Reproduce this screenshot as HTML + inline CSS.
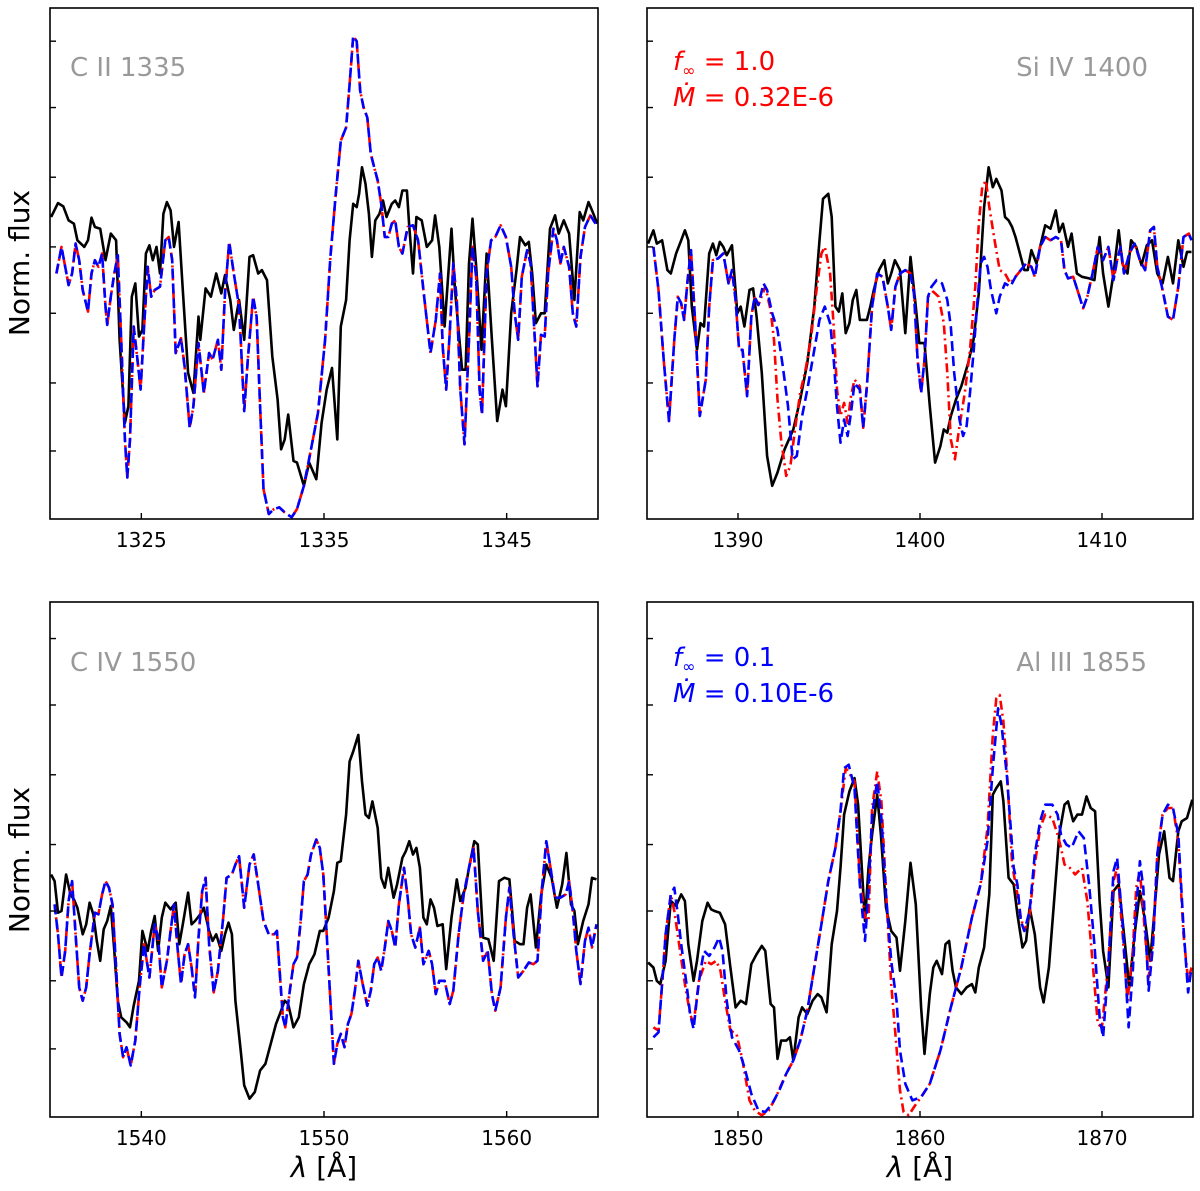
<!DOCTYPE html>
<html><head><meta charset="utf-8">
<style>
html,body{margin:0;padding:0;background:#fff;}
svg{display:block;font-family:"DejaVu Sans","Liberation Sans",sans-serif;}
</style></head>
<body>
<svg id="fig" width="1200" height="1191" viewBox="0 0 1200 1191" xmlns="http://www.w3.org/2000/svg">
<text x="0" y="0" transform="translate(29,263) rotate(-90)" text-anchor="middle" font-size="28">Norm. flux</text>
<text x="0" y="0" transform="translate(29,860) rotate(-90)" text-anchor="middle" font-size="28">Norm. flux</text>
<text x="324" y="1177" text-anchor="middle" font-size="28"><tspan font-style="italic">λ</tspan> [Å]</text>
<text x="920" y="1177" text-anchor="middle" font-size="28"><tspan font-style="italic">λ</tspan> [Å]</text>
<text x="70" y="76" font-size="26" fill="#999">C II 1335</text>
<text x="1148" y="76" text-anchor="end" font-size="26" fill="#999">Si IV 1400</text>
<text x="70" y="671" font-size="26" fill="#999">C IV 1550</text>
<text x="1147" y="671" text-anchor="end" font-size="26" fill="#999">Al III 1855</text>
<g fill="#ff0000" font-size="26">
<text x="673" y="70"><tspan font-style="italic">f</tspan><tspan font-size="16" dy="6">∞</tspan><tspan dy="-6"> = 1.0</tspan></text>
<text x="673" y="106"><tspan font-style="italic">Ṁ</tspan> = 0.32E-6</text>
</g>
<g fill="#0000ff" font-size="26">
<text x="673" y="666"><tspan font-style="italic">f</tspan><tspan font-size="16" dy="6">∞</tspan><tspan dy="-6"> = 0.1</tspan></text>
<text x="673" y="702"><tspan font-style="italic">Ṁ</tspan> = 0.10E-6</text>
</g>
</svg>
<script>
// y ticks (arbitrary normalized flux units, unlabeled)
const yTickValues = [0.205, 0.41, 0.62, 0.82, 1.03, 1.24, 1.44];
// x tick labels per panel (Angstrom)
const p1Ticks = [1325, 1335, 1345];
const p2Ticks = [1390, 1400, 1410];
const p3Ticks = [1540, 1550, 1560];
const p4Ticks = [1850, 1860, 1870];
// panel wavelength ranges
const p1Range = [1320, 1350];
const p2Range = [1385, 1415];
const p3Range = [1535, 1565];
const p4Range = [1845, 1875];

// ---- Panel 1: C II 1335 (wavelength offsets from range start, flux)
const p1ObsWave = [0.06,0.44,0.73,1.02,1.31,1.5,1.88,2.08,2.27,2.46,2.75,3.04,3.33,3.62,3.81,4.1,4.29,4.48,4.67,4.87,5.06,5.25,5.44,5.63,5.83,6.02,6.21,6.4,6.6,6.79,7.04,7.27,7.56,7.85,8.13,8.23,8.52,8.81,9.1,9.38,9.58,9.87,10.06,10.35,10.63,10.92,11.12,11.4,11.6,11.88,12.17,12.46,12.65,12.85,13.04,13.33,13.52,13.9,14.19,14.58,14.87,15.15,15.44,15.73,15.92,16.21,16.4,16.6,16.79,16.92,17.08,17.27,17.46,17.62,17.81,18.04,18.23,18.42,18.71,18.9,19.1,19.29,19.54,19.67,19.87,20.06,20.35,20.63,20.92,21.08,21.31,21.6,21.98,22.17,22.56,22.75,22.94,23.13,23.33,23.62,23.9,24.19,24.48,24.77,24.96,25.25,25.54,25.73,26.02,26.21,26.4,26.6,26.88,27.08,27.37,27.65,27.85,28.13,28.42,28.71,29.0,29.19,29.48,29.67,29.96];
const p1ObsFlux = [.91,.952,.942,.90,.89,.84,.82,.84,.908,.88,.875,.78,.86,.84,.54,.29,.34,.67,.71,.55,.57,.80,.825,.78,.82,.74,.92,.955,.93,.82,.895,.69,.44,.38,.61,.54,.695,.67,.74,.68,.735,.66,.57,.66,.54,.79,.795,.74,.75,.72,.49,.36,.21,.24,.315,.175,.17,.10,.17,.12,.29,.39,.455,.24,.58,.66,.84,.95,.94,.98,1.06,1.01,.92,.79,.90,.92,.96,.91,.95,.96,.94,.99,.99,.88,.74,.91,.90,.82,.84,.915,.82,.58,.875,.69,.45,.45,.77,.905,.76,.51,.80,.54,.295,.39,.34,.62,.75,.85,.825,.835,.74,.59,.62,.62,.875,.915,.86,.90,.86,.66,.925,.90,.955,.93,.89];
const p1ModelWave = [0.35,0.63,0.83,1.02,1.21,1.4,1.6,1.79,2.08,2.27,2.46,2.65,2.85,3.04,3.13,3.33,3.52,3.71,3.9,4.1,4.23,4.38,4.58,4.77,4.96,5.15,5.35,5.54,5.73,6.02,6.31,6.5,6.69,6.88,7.17,7.37,7.65,7.85,8.13,8.42,8.71,8.9,9.19,9.38,9.58,9.81,10.06,10.35,10.63,10.83,11.12,11.31,11.5,11.69,11.98,12.27,12.56,12.85,13.23,13.52,13.9,14.29,14.67,15.06,15.35,15.63,15.92,16.21,16.4,16.6,16.79,16.98,17.17,17.37,17.56,17.75,17.94,18.13,18.33,18.52,18.71,18.9,19.1,19.29,19.58,19.87,20.15,20.44,20.83,21.12,21.35,21.5,21.69,21.88,22.08,22.27,22.46,22.69,22.94,23.13,23.33,23.52,23.65,23.9,24.15,24.38,24.67,24.96,25.25,25.44,25.63,25.83,26.12,26.31,26.5,26.69,26.88,27.08,27.27,27.56,27.75,27.94,28.13,28.42,28.62,28.81,29.04,29.29,29.58,29.87];
const p1ModelFlux = [.74,.82,.76,.705,.74,.83,.78,.69,.625,.74,.78,.76,.80,.64,.585,.67,.74,.795,.54,.24,.125,.24,.58,.49,.39,.58,.76,.67,.69,.70,.84,.85,.78,.50,.545,.46,.275,.34,.53,.38,.50,.48,.54,.45,.68,.835,.74,.64,.325,.48,.67,.61,.34,.09,.015,.03,.035,.02,.005,.03,.10,.21,.32,.54,.79,.97,1.14,1.18,1.31,1.455,1.44,1.29,1.24,1.21,1.10,1.06,1.02,.95,.85,.85,.89,.90,.82,.80,.88,.885,.84,.69,.50,.60,.74,.52,.39,.56,.77,.66,.39,.225,.54,.82,.73,.39,.315,.74,.84,.85,.885,.85,.76,.62,.54,.73,.81,.77,.58,.40,.555,.55,.74,.875,.84,.77,.82,.76,.62,.58,.79,.88,.915,.89];

// ---- Panel 2: Si IV 1400
const p2ObsWave = [.06,.35,.54,.83,1.12,1.31,1.6,1.88,2.08,2.27,2.46,2.75,2.94,3.13,3.42,3.62,3.81,4.0,4.19,4.38,4.67,4.96,5.15,5.35,5.63,5.83,6.02,6.31,6.6,6.88,7.17,7.56,8.04,8.42,8.81,9.19,9.48,9.67,9.96,10.15,10.35,10.54,10.73,10.92,11.12,11.31,11.5,11.69,11.88,12.08,12.27,12.46,12.75,13.04,13.23,13.42,13.62,13.9,14.19,14.48,14.77,14.96,15.25,15.54,15.83,16.12,16.31,16.5,16.69,16.98,17.27,17.65,17.94,18.23,18.52,18.77,19.0,19.19,19.48,19.67,19.87,20.06,20.25,20.54,20.73,20.92,21.12,21.4,21.6,21.88,22.17,22.46,22.65,22.85,23.13,23.33,23.62,23.9,24.29,24.58,24.87,25.06,25.35,25.63,25.92,26.12,26.4,26.6,26.88,27.17,27.46,27.75,28.04,28.33,28.62,28.9,29.19,29.48,29.67,29.92];
const p2ObsFlux = [.83,.87,.83,.84,.75,.74,.80,.84,.87,.84,.64,.51,.59,.58,.80,.83,.795,.835,.82,.795,.825,.62,.64,.58,.69,.695,.61,.44,.19,.10,.14,.21,.27,.36,.47,.64,.84,.965,.98,.91,.64,.625,.68,.56,.59,.66,.69,.60,.60,.60,.64,.69,.75,.78,.71,.74,.78,.75,.56,.79,.64,.53,.53,.34,.17,.22,.27,.26,.31,.36,.40,.47,.54,.68,.94,1.06,1.0,1.025,.99,.91,.90,.88,.85,.79,.75,.75,.81,.77,.82,.885,.875,.93,.865,.89,.82,.86,.74,.73,.725,.72,.85,.74,.64,.74,.87,.77,.74,.84,.82,.765,.825,.84,.74,.71,.79,.71,.84,.76,.805,.805];
const p2BlueWave = [.35,.63,.92,1.21,1.5,1.69,1.88,2.04,2.23,2.42,2.65,2.9,3.23,3.42,3.62,3.9,4.19,4.48,4.67,4.87,5.06,5.25,5.5,5.73,5.92,6.12,6.4,6.6,6.88,7.17,7.46,7.75,8.0,8.23,8.52,8.81,9.19,9.48,9.77,10.06,10.25,10.44,10.63,10.83,11.02,11.21,11.4,11.69,11.88,12.08,12.37,12.65,12.94,13.23,13.42,13.65,13.9,14.19,14.48,14.67,14.87,15.06,15.25,15.44,15.63,15.92,16.21,16.5,16.69,16.88,17.17,17.37,17.56,17.75,17.94,18.13,18.33,18.52,18.71,18.9,19.19,19.38,19.67,19.96,20.25,20.54,20.83,21.12,21.31,21.6,21.88,22.17,22.46,22.75,22.94,23.13,23.42,23.71,23.96,24.19,24.48,24.77,25.06,25.35,25.63,25.83,26.02,26.21,26.5,26.79,27.08,27.37,27.65,27.85,28.04,28.33,28.62,28.9,29.19,29.48,29.77,29.92];
const p2BlueFlux = [.82,.69,.48,.295,.54,.67,.65,.60,.72,.81,.59,.31,.42,.64,.78,.785,.80,.71,.75,.66,.51,.51,.37,.61,.67,.645,.71,.69,.62,.57,.46,.34,.18,.19,.31,.39,.51,.60,.64,.59,.49,.34,.23,.30,.25,.32,.41,.39,.275,.40,.64,.74,.73,.64,.57,.70,.74,.75,.74,.68,.48,.38,.48,.67,.70,.72,.71,.66,.58,.44,.30,.25,.28,.38,.50,.64,.77,.79,.76,.69,.62,.67,.71,.70,.73,.75,.77,.76,.73,.82,.85,.84,.85,.84,.75,.725,.73,.68,.635,.67,.74,.82,.78,.82,.72,.78,.82,.74,.80,.83,.78,.75,.87,.88,.76,.69,.61,.60,.70,.85,.86,.84];
const p2RedWave = [.35,.63,.92,1.21,1.5,1.69,1.88,2.04,2.23,2.42,2.65,2.9,3.23,3.42,3.62,3.9,4.19,4.48,4.67,4.87,5.06,5.25,5.5,5.73,5.92,6.12,6.5,6.79,6.98,7.17,7.37,7.65,7.88,8.13,8.42,8.71,9.0,9.29,9.58,9.77,10.06,10.25,10.44,10.63,10.83,11.02,11.21,11.4,11.69,11.88,12.08,12.37,12.65,12.94,13.23,13.42,13.65,13.9,14.19,14.48,14.67,14.87,15.06,15.25,15.44,15.73,16.02,16.31,16.5,16.69,16.92,17.17,17.46,17.75,18.04,18.23,18.42,18.62,18.81,19.1,19.38,19.67,19.96,20.25,20.54,20.83,21.12,21.31,21.6,21.88,22.17,22.46,22.75,22.94,23.13,23.42,23.71,23.96,24.19,24.48,24.77,25.06,25.35,25.63,25.83,26.02,26.21,26.5,26.79,27.08,27.37,27.65,27.85,28.04,28.33,28.62,28.9,29.19,29.48,29.77,29.92];
const p2RedFlux = [.82,.69,.48,.295,.54,.67,.65,.60,.72,.81,.59,.31,.42,.64,.78,.785,.80,.71,.75,.66,.51,.51,.37,.61,.67,.645,.70,.63,.54,.36,.24,.13,.16,.27,.38,.45,.54,.68,.80,.82,.74,.59,.39,.31,.35,.29,.37,.42,.40,.275,.40,.64,.74,.73,.64,.57,.70,.74,.75,.74,.68,.48,.38,.48,.67,.685,.67,.59,.44,.24,.18,.28,.38,.51,.70,.89,1.0,1.02,.94,.84,.75,.74,.71,.73,.75,.77,.76,.73,.82,.85,.84,.85,.84,.75,.725,.73,.68,.635,.67,.74,.82,.78,.82,.72,.78,.82,.74,.80,.83,.78,.75,.87,.88,.76,.69,.61,.60,.70,.85,.86,.84];

// ---- Panel 3: C IV 1550
const p3ObsWave = [.06,.25,.44,.63,.88,1.12,1.31,1.5,1.79,1.98,2.17,2.37,2.56,2.75,2.94,3.13,3.33,3.52,3.71,3.9,4.19,4.38,4.58,4.87,5.06,5.35,5.54,5.73,5.92,6.12,6.31,6.6,6.88,7.08,7.27,7.56,7.75,7.94,8.23,8.42,8.71,8.9,9.1,9.38,9.58,9.77,9.96,10.15,10.44,10.63,10.92,11.21,11.5,11.79,12.08,12.37,12.65,12.85,13.04,13.33,13.62,13.9,14.19,14.48,14.77,14.96,15.25,15.54,15.73,15.92,16.21,16.4,16.6,16.88,17.08,17.27,17.46,17.65,17.94,18.13,18.33,18.52,18.81,19.0,19.29,19.48,19.67,19.87,20.06,20.25,20.44,20.63,20.83,21.02,21.21,21.5,21.69,21.98,22.27,22.46,22.75,22.94,23.23,23.42,23.71,24.0,24.29,24.58,24.87,25.15,25.44,25.73,25.92,26.12,26.31,26.6,26.88,27.17,27.46,27.75,28.04,28.27,28.52,28.71,28.9,29.19,29.48,29.67,29.92];
const p3ObsFlux = [.73,.71,.615,.62,.73,.67,.655,.63,.55,.58,.645,.61,.53,.47,.565,.59,.635,.50,.35,.30,.285,.27,.335,.41,.56,.50,.56,.605,.50,.60,.645,.625,.645,.52,.58,.675,.58,.59,.61,.63,.56,.53,.55,.50,.55,.585,.55,.35,.20,.095,.055,.075,.14,.16,.22,.28,.32,.35,.34,.27,.30,.40,.46,.49,.56,.56,.60,.68,.765,.77,.91,1.07,1.10,1.15,1.01,.91,.90,.95,.87,.72,.69,.75,.66,.70,.78,.80,.83,.79,.81,.75,.60,.58,.655,.63,.575,.58,.445,.60,.715,.65,.69,.75,.83,.82,.54,.535,.47,.71,.72,.715,.53,.52,.52,.63,.67,.51,.665,.76,.72,.63,.70,.795,.64,.62,.52,.59,.64,.72,.715];
const p3ModelWave = [.25,.44,.63,.83,1.02,1.21,1.4,1.6,1.79,1.98,2.17,2.46,2.65,2.85,3.04,3.23,3.42,3.62,3.81,4.0,4.19,4.42,4.67,4.92,5.15,5.44,5.73,5.92,6.12,6.4,6.6,6.79,6.98,7.17,7.37,7.56,7.75,7.94,8.13,8.33,8.52,8.71,8.96,9.19,9.48,9.67,9.96,10.15,10.35,10.63,10.92,11.15,11.4,11.69,11.98,12.27,12.42,12.56,12.75,12.88,13.13,13.33,13.52,13.71,13.9,14.1,14.29,14.58,14.77,14.96,15.15,15.35,15.54,15.73,15.92,16.12,16.31,16.5,16.69,16.88,17.12,17.37,17.56,17.75,17.94,18.13,18.33,18.52,18.71,18.9,19.1,19.38,19.58,19.77,20.0,20.25,20.44,20.73,20.92,21.12,21.31,21.6,21.88,22.08,22.37,22.65,22.94,23.19,23.42,23.71,23.96,24.19,24.38,24.67,24.96,25.15,25.38,25.63,25.92,26.21,26.46,26.69,26.92,27.17,27.37,27.65,27.94,28.23,28.42,28.62,28.81,29.04,29.29,29.48,29.67,29.92];
const p3ModelFlux = [.64,.55,.42,.50,.65,.71,.55,.39,.35,.39,.49,.615,.61,.67,.71,.69,.64,.45,.25,.18,.21,.155,.23,.40,.52,.42,.58,.54,.39,.47,.56,.64,.51,.40,.49,.52,.45,.36,.54,.68,.72,.52,.375,.44,.60,.72,.73,.76,.785,.63,.76,.79,.70,.59,.55,.55,.56,.45,.30,.27,.38,.46,.48,.58,.71,.73,.79,.835,.81,.73,.55,.35,.16,.22,.25,.21,.28,.31,.38,.47,.40,.335,.38,.46,.48,.44,.51,.59,.56,.51,.64,.75,.66,.55,.51,.57,.46,.50,.46,.37,.41,.41,.34,.38,.55,.67,.75,.81,.62,.47,.50,.37,.32,.39,.60,.69,.55,.42,.44,.465,.46,.47,.68,.83,.76,.66,.66,.67,.71,.62,.50,.40,.53,.57,.51,.58];

// ---- Panel 4: Al III 1855
const p4ObsWave = [.06,.35,.54,.73,1.02,1.31,1.6,1.88,2.08,2.27,2.56,2.75,3.04,3.33,3.52,3.71,4.0,4.29,4.58,4.87,5.15,5.44,5.73,6.02,6.31,6.5,6.79,6.98,7.17,7.37,7.65,7.85,8.04,8.33,8.52,8.81,9.1,9.38,9.58,9.87,10.15,10.44,10.63,10.83,11.12,11.4,11.6,11.79,11.98,12.17,12.37,12.65,12.85,13.13,13.42,13.71,13.9,14.19,14.48,14.77,15.06,15.25,15.54,15.73,15.92,16.21,16.4,16.6,16.79,16.98,17.27,17.56,17.85,18.04,18.23,18.52,18.81,19.0,19.19,19.44,19.58,19.87,20.15,20.35,20.63,20.83,21.02,21.31,21.6,21.79,22.08,22.37,22.65,22.94,23.13,23.42,23.65,23.9,24.15,24.38,24.62,24.87,25.06,25.35,25.63,25.92,26.21,26.5,26.79,27.08,27.37,27.65,27.85,28.13,28.42,28.71,28.9,29.19,29.38,29.67,29.96];
const p4ObsFlux = [.465,.45,.41,.40,.47,.65,.635,.67,.65,.52,.41,.47,.59,.645,.625,.62,.615,.58,.45,.33,.35,.34,.46,.49,.515,.50,.34,.33,.175,.23,.23,.24,.17,.30,.33,.31,.35,.37,.36,.315,.52,.62,.75,.91,.98,1.02,.94,.76,.59,.75,.85,.97,.85,.63,.56,.54,.44,.59,.765,.64,.33,.19,.37,.45,.47,.43,.52,.53,.44,.39,.37,.39,.40,.375,.45,.51,.67,.97,.99,1.01,.95,.72,.70,.61,.51,.53,.63,.55,.39,.345,.45,.65,.85,.94,.95,.89,.91,.91,.965,.93,.92,.65,.50,.39,.68,.70,.55,.39,.55,.68,.59,.47,.60,.79,.86,.72,.71,.86,.89,.90,.955];
const p4BlueWave = [.35,.63,.83,1.02,1.31,1.5,1.69,1.88,2.17,2.37,2.56,2.75,2.94,3.13,3.42,3.71,3.96,4.15,4.38,4.67,5.06,5.35,5.73,6.12,6.5,6.88,7.27,7.65,8.04,8.42,8.81,9.19,9.58,9.96,10.35,10.63,10.83,11.08,11.4,11.69,11.98,12.17,12.37,12.65,12.88,13.13,13.42,13.71,13.9,14.19,14.58,15.06,15.54,16.12,16.69,17.27,17.85,18.33,18.71,19.0,19.29,19.48,19.77,20.15,20.35,20.54,20.73,21.02,21.31,21.6,21.88,22.27,22.56,22.75,23.04,23.33,23.71,24.0,24.29,24.58,24.87,25.06,25.35,25.63,25.83,26.12,26.46,26.69,26.88,27.08,27.27,27.56,27.81,28.04,28.33,28.62,28.9,29.19,29.48,29.73,29.92];
const p4BlueFlux = [.24,.255,.40,.55,.67,.69,.61,.52,.40,.31,.265,.36,.44,.50,.485,.51,.54,.50,.35,.24,.20,.15,.07,.02,.015,.04,.08,.13,.17,.23,.32,.45,.58,.71,.81,.92,1.05,1.06,.99,.70,.53,.68,.91,1.01,.90,.67,.47,.35,.20,.10,.05,.06,.10,.20,.33,.45,.60,.70,.83,1.05,1.23,1.18,1.03,.75,.70,.59,.56,.62,.79,.89,.94,.94,.91,.85,.82,.81,.86,.84,.70,.52,.30,.24,.46,.74,.78,.59,.27,.44,.63,.77,.69,.38,.52,.79,.91,.94,.93,.85,.57,.375,.45];
const p4RedWave = [.35,.63,.83,1.02,1.31,1.5,1.79,2.08,2.37,2.56,2.85,3.23,3.52,3.81,4.04,4.29,4.58,4.92,5.25,5.63,5.92,6.31,6.69,7.08,7.65,8.04,8.42,8.81,9.19,9.58,9.96,10.35,10.63,10.92,11.4,11.69,11.98,12.17,12.37,12.65,12.88,13.13,13.42,13.65,13.9,14.1,14.38,14.67,15.06,15.54,16.12,16.69,17.27,17.85,18.33,18.71,19.0,19.19,19.38,19.58,19.77,20.06,20.35,20.54,20.73,21.02,21.31,21.6,21.88,22.27,22.56,22.75,22.94,23.23,23.52,23.9,24.19,24.48,24.77,25.0,25.35,25.63,25.83,26.12,26.4,26.69,26.88,27.08,27.37,27.56,27.81,28.04,28.33,28.62,28.9,29.19,29.48,29.73,29.92];
const p4RedFlux = [.27,.26,.40,.55,.67,.62,.51,.40,.31,.28,.41,.47,.46,.47,.44,.35,.26,.25,.17,.05,.02,.005,.02,.06,.13,.17,.23,.32,.45,.58,.71,.81,.92,1.05,1.01,.72,.60,.59,.93,1.04,.95,.68,.40,.25,.08,.015,.005,.03,.06,.10,.20,.33,.45,.60,.70,.87,1.15,1.26,1.27,1.19,1.05,.76,.67,.60,.56,.61,.76,.87,.91,.90,.85,.81,.76,.75,.73,.75,.65,.47,.28,.27,.47,.71,.75,.56,.35,.50,.69,.74,.55,.42,.53,.79,.91,.93,.93,.83,.55,.41,.45];

const NS = 'http://www.w3.org/2000/svg';
const fig = document.getElementById('fig');

function mk(tag, attrs) {
  const e = document.createElementNS(NS, tag);
  for (const k in attrs) e.setAttribute(k, attrs[k]);
  return e;
}

function drawPanel(id, box, range, yMax, ticks, obsW, obsF, redW, redF, blueW, blueF) {
  const g = mk('g', {});
  
  
  fig.appendChild(g);
  const xs = v => box.x + (v - range[0]) / (range[1] - range[0]) * box.w;
  const ys = v => box.y + box.h - v / yMax * box.h;
  const cid = id + '-clip';
  const cp = mk('clipPath', {id: cid});
  cp.appendChild(mk('rect', {x: box.x, y: box.y - 4, width: box.w, height: box.h + 4}));
  g.appendChild(cp);
  const lines = mk('g', {'clip-path': 'url(#' + cid + ')'});
  g.appendChild(lines);
  function series(W, F, stroke, dash, name) {
    const n = Math.min(W.length, F.length);
    let d = '';
    for (let i = 0; i < n; i++) d += (i ? 'L' : 'M') + xs(range[0] + W[i]).toFixed(1) + ',' + ys(F[i]).toFixed(1);
    const p = mk('path', {d: d, fill: 'none', stroke: stroke, 'stroke-width': 2.6, 'stroke-linejoin': 'round'});
    if (dash) p.setAttribute('stroke-dasharray', dash);
    
    
    lines.appendChild(p);
  }
  series(obsW, obsF, '#000', null, id + '-observed-line');
  series(redW, redF, '#ff0000', '9,4,2,4', id + '-red-model-line');
  series(blueW, blueF, '#0000ff', '10,5', id + '-blue-model-line');
  const frame = mk('rect', {x: box.x, y: box.y, width: box.w, height: box.h, fill: 'none', stroke: '#000', 'stroke-width': 1.6});
  
  
  g.appendChild(frame);
  for (const t of yTickValues) {
    const tk = mk('line', {x1: box.x, x2: box.x + 6, y1: ys(t), y2: ys(t), stroke: '#000', 'stroke-width': 1.4});
    
    
    g.appendChild(tk);
  }
  for (const t of ticks) {
    const tk = mk('line', {x1: xs(t), x2: xs(t), y1: box.y + box.h, y2: box.y + box.h - 6, stroke: '#000', 'stroke-width': 1.4});
    
    
    g.appendChild(tk);
    const lb = mk('text', {x: xs(t), y: box.y + box.h + 28, 'text-anchor': 'middle', 'font-size': 20});
    lb.textContent = t;
    
    
    g.appendChild(lb);
  }
}

drawPanel('c2-1335', {x: 50, y: 8, w: 548, h: 511}, p1Range, 1.54, p1Ticks, p1ObsWave, p1ObsFlux, p1ModelWave, p1ModelFlux, p1ModelWave, p1ModelFlux);
drawPanel('si4-1400', {x: 647, y: 8, w: 546, h: 511}, p2Range, 1.54, p2Ticks, p2ObsWave, p2ObsFlux, p2RedWave, p2RedFlux, p2BlueWave, p2BlueFlux);
drawPanel('c4-1550', {x: 50, y: 602, w: 548, h: 515}, p3Range, 1.55, p3Ticks, p3ObsWave, p3ObsFlux, p3ModelWave, p3ModelFlux, p3ModelWave, p3ModelFlux);
drawPanel('al3-1855', {x: 647, y: 602, w: 546, h: 515}, p4Range, 1.55, p4Ticks, p4ObsWave, p4ObsFlux, p4RedWave, p4RedFlux, p4BlueWave, p4BlueFlux);
</script>
</body></html>
